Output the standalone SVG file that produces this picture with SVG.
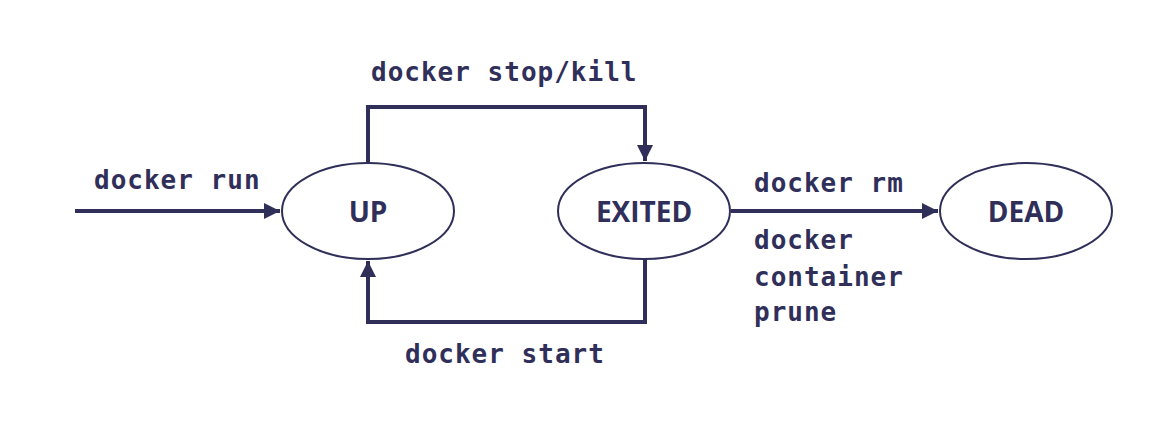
<svg xmlns="http://www.w3.org/2000/svg" width="1152" height="427" viewBox="0 0 1152 427">
<style>
.node ellipse{fill:#fff;stroke:#2f2f5a;stroke-width:2}
.node text{font-family:"Open Sans","Liberation Sans",sans-serif;font-weight:bold;font-size:28px;fill:#2f2f5a;text-anchor:middle}
.edge{fill:none;stroke:#2f2f5a;stroke-width:4}
.lbl{font-family:"DejaVu Sans Mono","Liberation Mono",monospace;font-weight:bold;font-size:26px;letter-spacing:1px;fill:#2f2f5a}
</style>
<defs>
<marker id="arr" viewBox="0 0 10 10" refX="10" refY="5" markerWidth="4" markerHeight="4" markerUnits="strokeWidth" orient="auto">
<path d="M0,0L10,5L0,10z" fill="#2f2f5a"/>
</marker>
</defs>
<rect width="1152" height="427" fill="#fff"/>
<g id="connectors">
<path class="edge" d="M75,211H280" marker-end="url(#arr)"/>
<path class="edge" d="M368,163V107H645V161" marker-end="url(#arr)"/>
<path class="edge" d="M645,259V322H368V261" marker-end="url(#arr)"/>
<path class="edge" d="M731,211H938" marker-end="url(#arr)"/>
</g>
<g id="labels">
<text class="lbl" x="94" y="189">docker run</text>
<text class="lbl" x="371" y="81">docker stop/kill</text>
<text class="lbl" x="405" y="363">docker start</text>
<text class="lbl" x="754" y="192">docker rm</text>
<text class="lbl" x="754" y="249">docker</text>
<text class="lbl" x="754" y="286">container</text>
<text class="lbl" x="754" y="321">prune</text>
</g>
<g id="up" class="node"><ellipse cx="368" cy="211" rx="86" ry="48"/><text x="368" y="222">UP</text></g>
<g id="exited" class="node"><ellipse cx="644" cy="211" rx="86" ry="48"/><text x="644" y="222">EXITED</text></g>
<g id="dead" class="node"><ellipse cx="1026" cy="211" rx="86" ry="48"/><text x="1026" y="222">DEAD</text></g>
</svg>
